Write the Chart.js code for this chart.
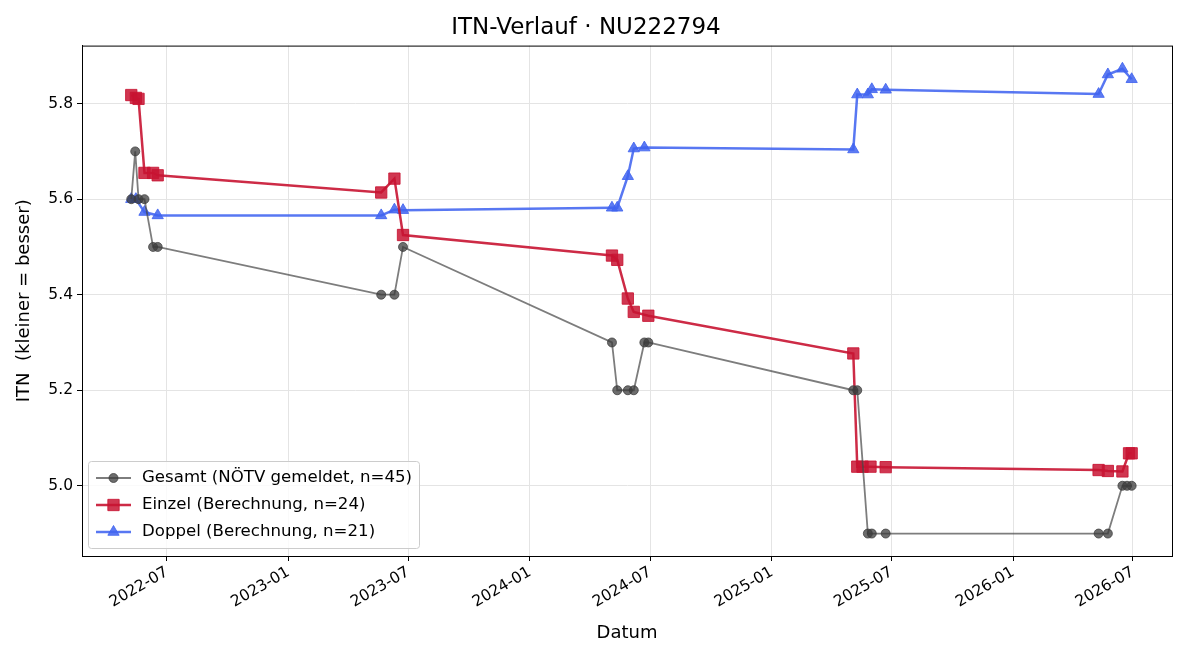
<!DOCTYPE html>
<html>
<head>
<meta charset="utf-8">
<script src="https://cdn.jsdelivr.net/npm/chart.js@4/dist/chart.umd.min.js"></script>
<style>
  html, body { margin: 0; padding: 0; background: #fff; }
  #wrap { width: 1200px; height: 660px; }
</style>
</head>
<body>
<div id="wrap"><canvas id="itn"></canvas></div>
<script>
// Gesamt (NÖTV gemeldet)
const gesamtDatum = ['2022-05-08', '2022-05-14', '2022-05-19', '2022-05-28', '2022-06-10', '2022-06-17',
  '2023-05-21', '2023-06-10', '2023-06-23',
  '2024-05-04', '2024-05-12', '2024-05-28', '2024-06-06', '2024-06-22', '2024-06-28',
  '2025-05-04', '2025-05-10', '2025-05-26', '2025-06-01', '2025-06-22',
  '2026-05-10', '2026-05-24', '2026-06-15', '2026-06-22', '2026-06-29'];
const gesamtITN = [5.6, 5.7, 5.6, 5.6, 5.5, 5.5,
  5.4, 5.4, 5.5,
  5.3, 5.2, 5.2, 5.2, 5.3, 5.3,
  5.2, 5.2, 4.9, 4.9, 4.9,
  4.9, 4.9, 5.0, 5.0, 5.0];

// Einzel (Berechnung)
const einzelDatum = ['2022-05-08', '2022-05-15', '2022-05-19', '2022-05-28', '2022-06-10', '2022-06-17',
  '2023-05-21', '2023-06-10', '2023-06-23',
  '2024-05-04', '2024-05-12', '2024-05-28', '2024-06-06', '2024-06-28',
  '2025-05-04', '2025-05-10', '2025-05-18', '2025-05-30', '2025-06-22',
  '2026-05-10', '2026-05-24', '2026-06-15', '2026-06-25', '2026-06-29'];
const einzelITN = [5.818, 5.812, 5.81, 5.655, 5.655, 5.65,
  5.614, 5.643, 5.525,
  5.482, 5.473, 5.392, 5.364, 5.356,
  5.277, 5.04, 5.04, 5.04, 5.039,
  5.033, 5.031, 5.03, 5.068, 5.068];

// Doppel (Berechnung)
const doppelDatum = ['2022-05-08', '2022-05-15', '2022-05-28', '2022-06-17',
  '2023-05-21', '2023-06-10', '2023-06-23',
  '2024-05-04', '2024-05-12', '2024-05-28', '2024-06-06', '2024-06-22',
  '2025-05-04', '2025-05-10', '2025-05-26', '2025-06-01', '2025-06-22',
  '2026-05-10', '2026-05-24', '2026-06-15', '2026-06-29'];
const doppelITN = [5.6, 5.6, 5.573, 5.566,
  5.566, 5.578, 5.577,
  5.582, 5.582, 5.648, 5.706, 5.708,
  5.704, 5.819, 5.819, 5.83, 5.829,
  5.82, 5.861, 5.873, 5.851];

// Achsen-Ticks
const xTicks = ['2022-07', '2023-01', '2023-07', '2024-01', '2024-07', '2025-01', '2025-07', '2026-01', '2026-07'];
const yTicks = [5.0, 5.2, 5.4, 5.6, 5.8];

const ts = s => {
  const p = s.split('-').map(Number);
  return Date.UTC(p[0], p[1] - 1, p[2] || 1);
};
const punkte = (d, v) => d.map((s, i) => ({ x: ts(s), y: v[i] }));
const monat = v => {
  const d = new Date(v);
  return d.getUTCFullYear() + '-' + String(d.getUTCMonth() + 1).padStart(2, '0');
};

const FONT = "'DejaVu Sans', sans-serif";

// Rahmen + Legende unten links im Plot (wie matplotlib)
const rahmenLegende = {
  id: 'rahmenLegende',
  afterDraw(chart) {
    const { ctx, chartArea: a } = chart;
    ctx.save();
    ctx.strokeStyle = '#000';
    ctx.lineWidth = 1;
    ctx.strokeRect(a.left + 0.5, a.top + 0.5, a.right - a.left, a.bottom - a.top);

    const bx = a.left + 6, by = a.bottom - 95, bw = 331, bh = 87;
    ctx.beginPath();
    ctx.roundRect(bx + 0.5, by + 0.5, bw, bh, 3);
    ctx.fillStyle = 'rgba(255,255,255,0.8)';
    ctx.fill();
    ctx.strokeStyle = '#cccccc';
    ctx.stroke();

    ctx.font = '16.6px ' + FONT;
    ctx.textBaseline = 'middle';
    chart.data.datasets.forEach((ds, i) => {
      const y = by + 17 + i * 27;
      const x0 = bx + 8;
      ctx.strokeStyle = ds.borderColor;
      ctx.lineWidth = ds.borderWidth;
      ctx.beginPath();
      ctx.moveTo(x0, y);
      ctx.lineTo(x0 + 35, y);
      ctx.stroke();
      ctx.fillStyle = ds.pointBackgroundColor;
      ctx.strokeStyle = ds.pointBorderColor;
      ctx.lineWidth = 1;
      Chart.helpers.drawPoint(ctx, { pointStyle: ds.pointStyle, radius: ds.pointRadius, rotation: 0, borderWidth: 1 }, x0 + 17.5, y);
      ctx.fillStyle = '#000';
      ctx.fillText(ds.label, x0 + 46, y);
    });
    ctx.restore();
  }
};

new Chart(document.getElementById('itn'), {
  type: 'line',
  data: {
    datasets: [{
      label: 'Gesamt (NÖTV gemeldet, n=45)',
      data: punkte(gesamtDatum, gesamtITN),
      borderColor: 'rgba(70,70,70,0.7)',
      backgroundColor: 'rgba(70,70,70,0.7)',
      borderWidth: 1.8,
      pointStyle: 'circle',
      pointRadius: 4.5,
      pointBackgroundColor: 'rgba(60,60,60,0.75)',
      pointBorderColor: 'rgba(60,60,60,0.75)',
      pointBorderWidth: 1
    }, {
      label: 'Einzel (Berechnung, n=24)',
      data: punkte(einzelDatum, einzelITN),
      borderColor: 'rgba(200,20,50,0.9)',
      backgroundColor: 'rgba(200,20,50,0.9)',
      borderWidth: 2.5,
      pointStyle: 'rect',
      pointRadius: 8,
      pointBackgroundColor: 'rgba(200,20,50,0.85)',
      pointBorderColor: 'rgba(200,20,50,0.85)',
      pointBorderWidth: 1
    }, {
      label: 'Doppel (Berechnung, n=21)',
      data: punkte(doppelDatum, doppelITN),
      borderColor: 'rgba(65,100,240,0.88)',
      backgroundColor: 'rgba(65,100,240,0.88)',
      borderWidth: 2.5,
      pointStyle: 'triangle',
      pointRadius: 6.5,
      pointBackgroundColor: 'rgba(65,100,240,0.85)',
      pointBorderColor: 'rgba(65,100,240,0.85)',
      pointBorderWidth: 1
    }]
  },
  options: {
    responsive: true,
    maintainAspectRatio: false,
    animation: false,
    layout: { padding: { left: 0, right: 28, top: 0, bottom: 0 } },
    plugins: {
      legend: { display: false },
      tooltip: { enabled: false },
      title: {
        display: true,
        text: 'ITN-Verlauf · NU222794',
        color: '#000',
        font: { family: FONT, size: 23, weight: 'normal' },
        padding: { top: 14, bottom: 4 }
      }
    },
    scales: {
      x: {
        type: 'linear',
        min: Date.UTC(2022, 1, 22, 12),
        max: Date.UTC(2026, 7, 29),
        afterBuildTicks: s => { s.ticks = xTicks.map(t => ({ value: ts(t) })); },
        afterFit: s => { s.height = 104; },
        ticks: {
          callback: v => monat(v),
          color: '#000',
          font: { family: FONT, size: 15.5 },
          minRotation: 30,
          maxRotation: 30,
          padding: 2
        },
        grid: { color: '#e4e4e4', tickColor: '#000', tickLength: 5 },
        border: { color: '#000' },
        title: {
          display: true,
          text: 'Datum',
          color: '#000',
          font: { family: FONT, size: 18 },
          padding: { top: 0, bottom: 16 }
        }
      },
      y: {
        type: 'linear',
        min: 4.853,
        max: 5.9215,
        afterBuildTicks: s => { s.ticks = yTicks.map(v => ({ value: v })); },
        afterFit: s => { s.width = 82; },
        ticks: {
          callback: v => v.toFixed(1),
          color: '#000',
          font: { family: FONT, size: 15.5 },
          padding: 4
        },
        grid: { color: '#e4e4e4', tickColor: '#000', tickLength: 5 },
        border: { color: '#000' },
        title: {
          display: true,
          text: 'ITN  (kleiner = besser)',
          color: '#000',
          font: { family: FONT, size: 18 },
          padding: { top: 14, bottom: 0 }
        }
      }
    }
  },
  plugins: [rahmenLegende]
});
</script>
</body>
</html>
